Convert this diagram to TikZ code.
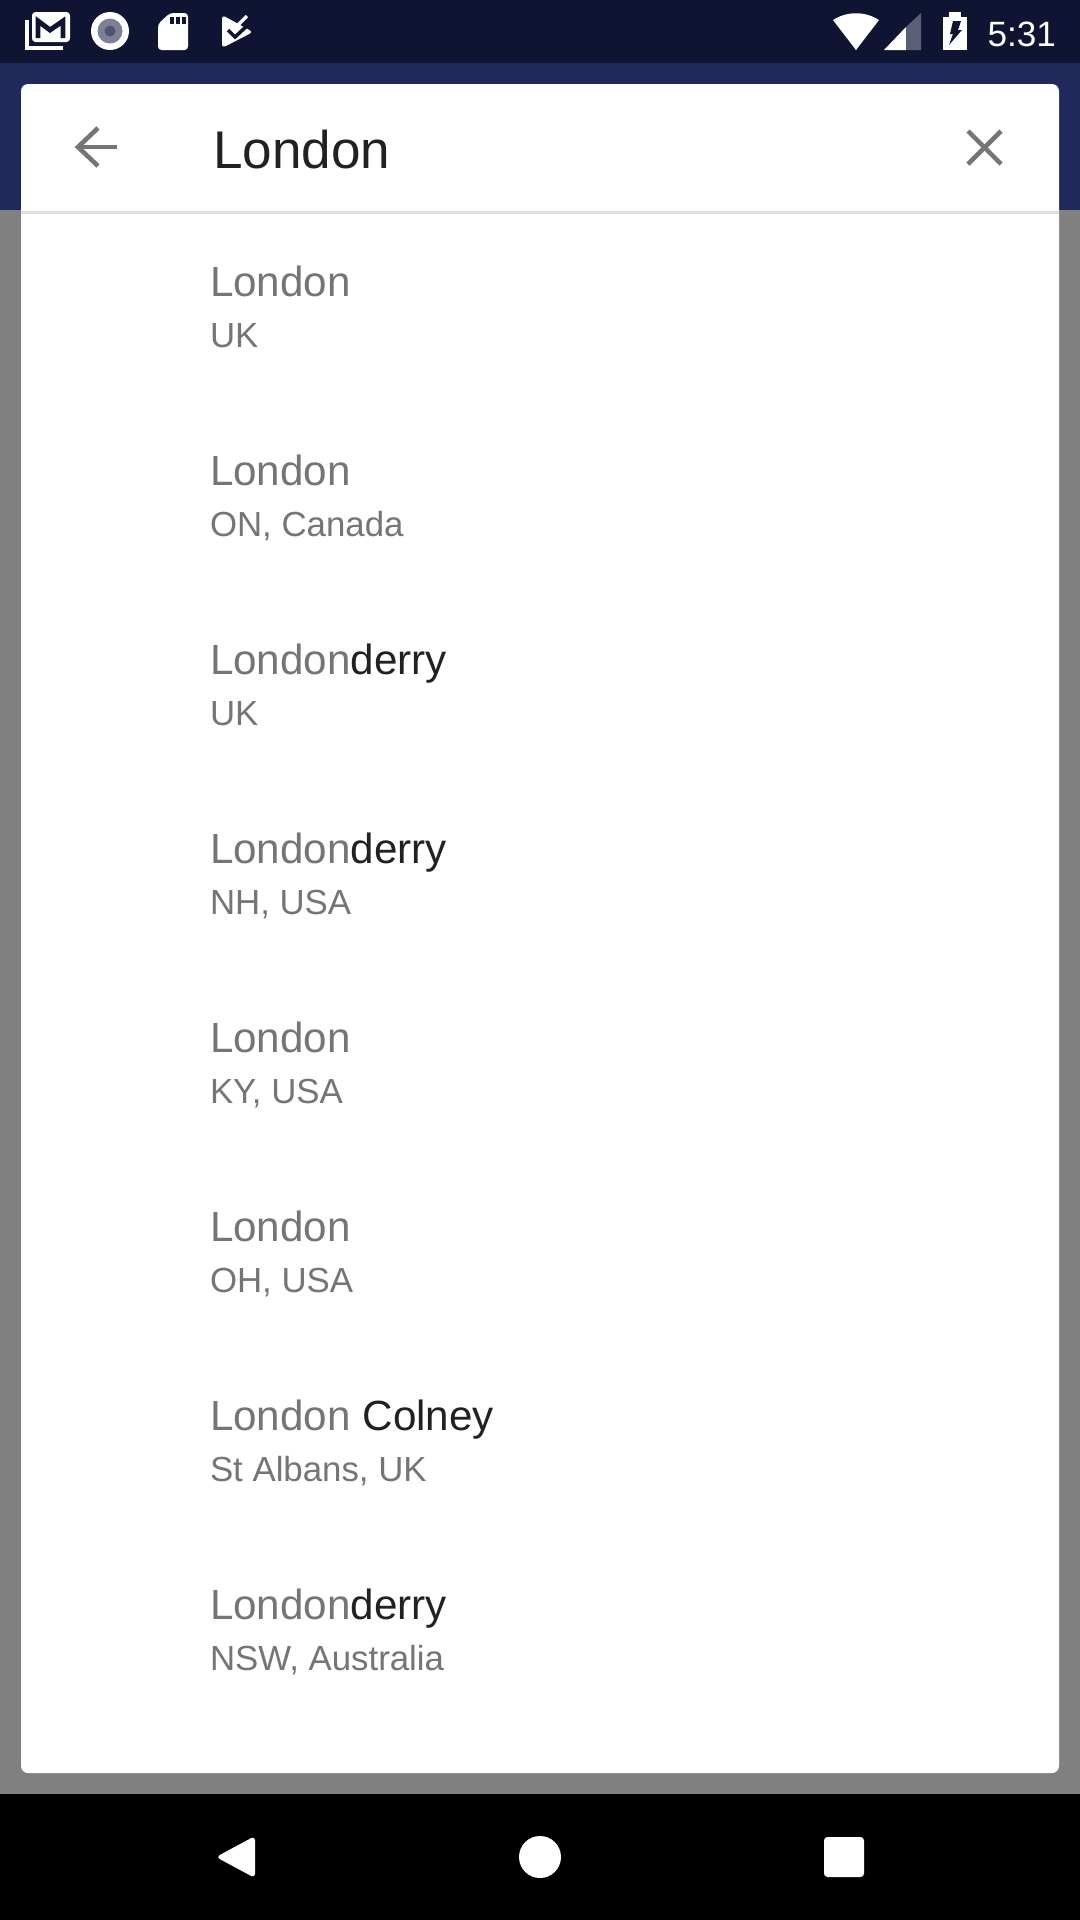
\documentclass[tikz,border=0pt]{standalone}
\usepackage{fontspec}
\setmainfont{Liberation Sans}
\usepackage{xcolor}
\usepackage{tikz}
\usetikzlibrary{positioning, calc}
\definecolor{statusbg}{RGB}{15,20,50}
\definecolor{appbg}{RGB}{31,41,92}
\definecolor{scrim}{RGB}{128,128,128}
\definecolor{cardline}{RGB}{224,224,224}
\definecolor{hintgrey}{RGB}{117,117,117}
\definecolor{inkdark}{RGB}{33,33,33}
\definecolor{dimring}{RGB}{125,128,150}
\definecolor{dimcore}{RGB}{80,84,115}
\definecolor{dimbar}{RGB}{90,94,118}
\tikzset{
  place/.style={anchor=base west, inner sep=0pt, outer sep=0pt, text=hintgrey, font=\fontsize{12pt}{14pt}\selectfont},
  region/.style={anchor=base west, inner sep=0pt, outer sep=0pt, text=hintgrey, font=\fontsize{9.9pt}{12pt}\selectfont},
  query/.style={anchor=base west, inner sep=0pt, outer sep=0pt, text=inkdark, font=\fontsize{15.1pt}{18pt}\selectfont},
  clock/.style={anchor=base east, inner sep=0pt, outer sep=0pt, text=white, font=\fontsize{10pt}{12pt}\selectfont},
  toolicon/.style={draw=hintgrey, line width=1.3pt},
  navicon/.style={fill=white, draw=none}
}
\begin{document}
\begin{tikzpicture}[x=0.01cm, y=-0.01cm]
  \useasboundingbox (0,0) rectangle (1080,1920);
  % backgrounds
  \fill[scrim] (0,0) rectangle (1080,1920);
  \fill[appbg] (0,63) rectangle (1080,210);
  \fill[statusbg] (0,0) rectangle (1080,63);
  \fill[black] (0,1794) rectangle (1080,1920);
  % card
  \fill[white, rounded corners=2pt] (21,84) rectangle (1059,1773);
  \fill[cardline] (21,211) rectangle (1059,214);
  % status icons left
  \draw[white, line width=1pt] (27,20) -- (27,48) -- (63,48);
  \fill[white, rounded corners=1pt] (32,12) rectangle (70,42);
  \draw[statusbg, line width=1.4pt] (38,38) -- (38,21) -- (50,30) -- (63,21) -- (63,38);
  \fill[white] (110,31) circle (19);
  \fill[dimring] (110,31) circle (12.5);
  \fill[dimcore] (110,31) circle (5.5);
  \fill[white, rounded corners=1pt] (158,50) -- (158,24) -- (170,13) -- (188,13) -- (188,50) -- cycle;
  \foreach \x in {172,178,184} {
    \fill[statusbg] (\x-2.2,17) rectangle (\x+2.2,24);
  }
  \fill[white, rounded corners=1pt] (222,15) -- (253,32) -- (222,48) -- cycle;
  \draw[white, line width=0.95pt] (238,25) -- (247,16);
  \draw[statusbg, line width=1pt] (228,30) -- (235,37) -- (249,24);
  % status icons right
  \fill[white] (833,20) .. controls (847,11) and (865,11) .. (879,20) -- (856,50) -- cycle;
  \fill[white] (884,50) -- (906,27) -- (906,50) -- cycle;
  \fill[dimbar] (906,27) -- (921,13) -- (921,50) -- (906,50) -- cycle;
  \fill[white] (943,17) rectangle (967,50);
  \fill[white] (949,12) rectangle (961,17);
  \fill[statusbg] (953,21) -- (961,21) -- (958,30) -- (962,30) -- (949,45) -- (953,34) -- (950,34) -- cycle;
  \node[clock] (time) at (1056,46) {5:31};
  % search bar
  \node[query] (search) at (213,168) {London};
  \draw[toolicon] (117,147) -- (78,147);
  \draw[toolicon] (98,128) -- (78,147) -- (98,166);
  \draw[toolicon] (968,131) -- (1001,164);
  \draw[toolicon] (1001,131) -- (968,164);
  % results
  \foreach \i/\extra/\where in {0//UK, 1//{ON, Canada}, 2/derry/UK, 3/derry/{NH, USA},
      4//{KY, USA}, 5//{OH, USA}, 6/{\ Colney}/{St Albans, UK}, 7/derry/{NSW, Australia}} {
    \node[place] (city\i) at (210,296+189*\i) {London\textcolor{inkdark}{\extra}};
    \node[region] (area\i) at (210,347+189*\i) {\where};
  }
  % navigation bar
  \fill[navicon, rounded corners=1.2pt] (255,1836) -- (255,1878) -- (216,1857) -- cycle;
  \fill[navicon] (540,1857) circle (21);
  \fill[navicon, rounded corners=1pt] (824,1837) rectangle (864,1877);
\end{tikzpicture}
\end{document}
